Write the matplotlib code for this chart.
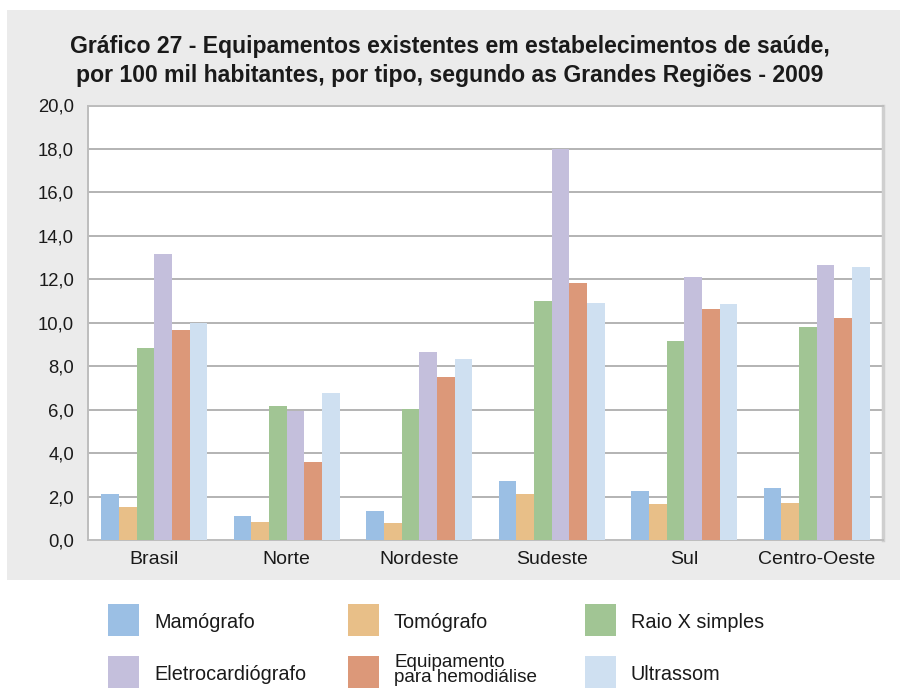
import matplotlib
matplotlib.use("Agg")
import matplotlib.pyplot as plt
import numpy as np
from matplotlib.patches import Rectangle

regions = ["Brasil", "Norte", "Nordeste", "Sudeste", "Sul", "Centro-Oeste"]
series_names = ["Mamógrafo", "Tomógrafo", "Raio X simples",
                "Eletrocardiógrafo", "Equipamento\npara hemodiálise", "Ultrassom"]
mamografo = [2.12, 1.11, 1.34, 2.72, 2.26, 2.40]
tomografo = [1.52, 0.83, 0.78, 2.12, 1.66, 1.71]
raio_x = [8.85, 6.18, 6.04, 11.01, 9.17, 9.82]
eletro = [13.18, 5.94, 8.66, 18.00, 12.12, 12.67]
hemodialise = [9.68, 3.59, 7.51, 11.84, 10.65, 10.23]
ultrassom = [10.00, 6.77, 8.34, 10.92, 10.88, 12.58]
yticks = [0, 2, 4, 6, 8, 10, 12, 14, 16, 18, 20]
ytick_labels = ["0,0", "2,0", "4,0", "6,0", "8,0", "10,0", "12,0", "14,0", "16,0", "18,0", "20,0"]

colors = ["#9bbfe4", "#e8bf88", "#a1c594", "#c4bfdc", "#dc9879", "#cfe0f1"]
values = [mamografo, tomografo, raio_x, eletro, hemodialise, ultrassom]

plt.rcParams['font.family'] = ['Liberation Sans', 'DejaVu Sans']

W, H = 900, 688
fig = plt.figure(figsize=(9, 6.88), dpi=100)
fig.patch.set_facecolor("white")

# gray panel
fig.patches.append(Rectangle((7 / W, 1 - 580 / H), (900 - 7) / W, (580 - 10) / H,
                             transform=fig.transFigure, facecolor="#ebebeb",
                             edgecolor="none", zorder=-10))

ax = fig.add_axes([88 / W, 1 - 540 / H, (883 - 88) / W, (540 - 105.5) / H])
ax.set_zorder(1)
ax.set_facecolor("white")

x = np.arange(len(regions))
n = len(values)
group_w = 0.8
bw = group_w / n
for i, (vals, c) in enumerate(zip(values, colors)):
    ax.bar(x - group_w / 2 + bw * (i + 0.5), vals, width=bw, color=c,
           edgecolor="none", zorder=3)

ax.set_xlim(-0.5, len(regions) - 0.5)
ax.set_ylim(0, 20)
ax.set_yticks(yticks)
ax.set_yticklabels(ytick_labels, fontsize=13.3, color="#1a1a1a")
ax.set_xticks(x)
ax.set_xticklabels(regions, fontsize=14, color="#1a1a1a")
ax.tick_params(axis="both", length=0)
ax.tick_params(axis="x", pad=8)
ax.tick_params(axis="y", pad=10)
for yt in yticks[1:]:
    ax.axhline(yt, color="#b3b3b3", lw=1.4, zorder=1)
for s in ["left", "bottom", "top"]:
    ax.spines[s].set_color("#bdbdbd")
    ax.spines[s].set_linewidth(1.4)
ax.spines["right"].set_color("#cfcfcf")
ax.spines["right"].set_linewidth(2.5)

fig.text(0.5, 1 - 61 / H, "Gráfico 27 - Equipamentos existentes em estabelecimentos de saúde,\n"
         "por 100 mil habitantes, por tipo, segundo as Grandes Regiões - 2009",
         ha="center", va="center", fontsize=16.6, fontweight="bold",
         color="#1a1a1a", linespacing=1.3)

# legend
col_x = [108, 348, 585]
row_y = [604, 656]
for i, (name, c) in enumerate(zip(series_names, colors)):
    r, col = divmod(i, 3)
    px, py = col_x[col], row_y[r]
    fig.patches.append(Rectangle((px / W, 1 - (py + 32) / H), 31 / W, 32 / H,
                                 transform=fig.transFigure, facecolor=c,
                                 edgecolor="none"))
    if "\n" in name:
        fig.text((px + 46) / W, 1 - (py + 14) / H, name, ha="left", va="center",
                 fontsize=13.6, color="#1a1a1a", linespacing=0.85)
    else:
        fig.text((px + 46) / W, 1 - (py + 18) / H, name, ha="left", va="center",
                 fontsize=14.3, color="#1a1a1a")

fig.savefig("out.png", dpi=100, facecolor=fig.get_facecolor())
